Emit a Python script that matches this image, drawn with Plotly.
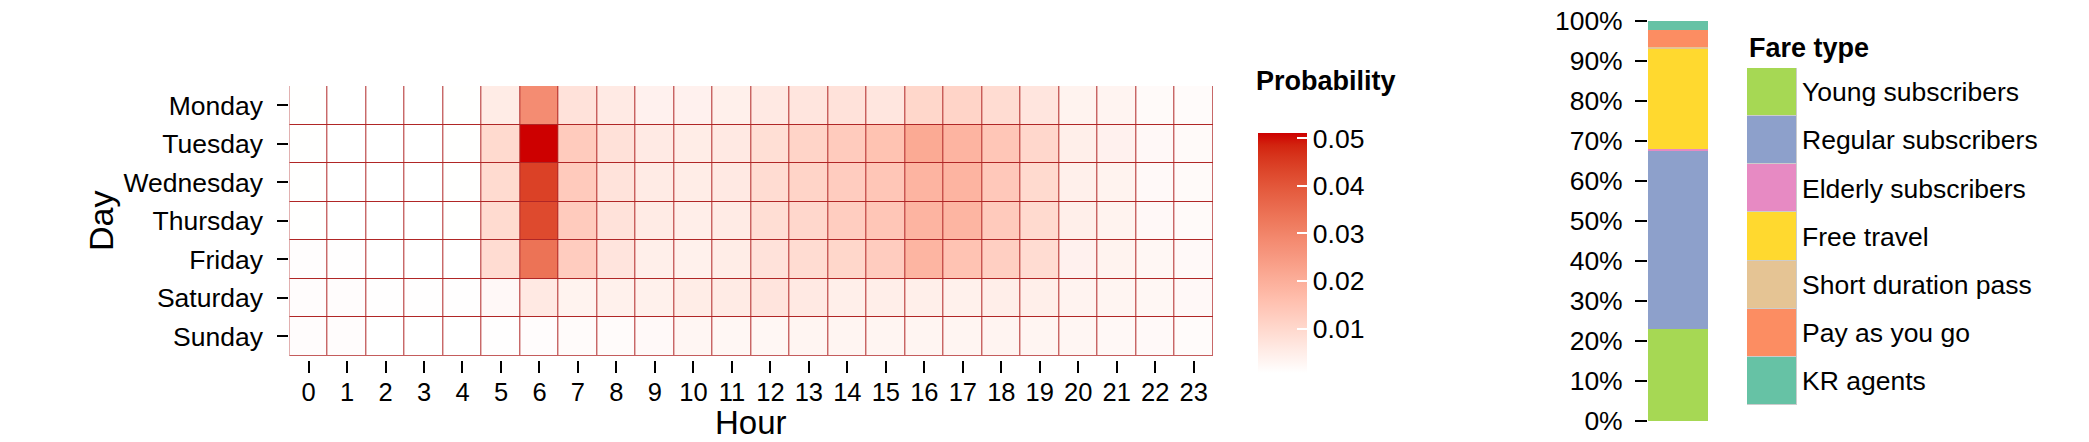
import plotly.graph_objects as go

# ---------------- data ----------------
days = ["Monday", "Tuesday", "Wednesday", "Thursday", "Friday", "Saturday", "Sunday"]
hours = list(range(24))

monday = [0.0008, 0.0007, 0.0007, 0.0007, 0.0008, 0.0053, 0.0283, 0.0076, 0.0058, 0.0039, 0.0039, 0.0043,
          0.0060, 0.0068, 0.0076, 0.0066, 0.0104, 0.0110, 0.0091, 0.0068, 0.0036, 0.0032, 0.0018, 0.0016]
tuesday = [0.0008, 0.0007, 0.0007, 0.0007, 0.0008, 0.0096, 0.0512, 0.0131, 0.0078, 0.0058, 0.0051, 0.0060,
           0.0084, 0.0110, 0.0131, 0.0152, 0.0212, 0.0186, 0.0143, 0.0102, 0.0045, 0.0039, 0.0022, 0.0018]
wednesday = [0.0008, 0.0007, 0.0007, 0.0007, 0.0008, 0.0094, 0.0442, 0.0133, 0.0073, 0.0055, 0.0051, 0.0060,
             0.0091, 0.0110, 0.0128, 0.0143, 0.0186, 0.0186, 0.0138, 0.0096, 0.0043, 0.0036, 0.0020, 0.0018]
thursday = [0.0008, 0.0007, 0.0007, 0.0007, 0.0008, 0.0094, 0.0425, 0.0131, 0.0076, 0.0055, 0.0047, 0.0055,
            0.0086, 0.0102, 0.0126, 0.0143, 0.0186, 0.0183, 0.0133, 0.0096, 0.0045, 0.0036, 0.0022, 0.0018]
friday = [0.0011, 0.0009, 0.0007, 0.0007, 0.0007, 0.0091, 0.0340, 0.0128, 0.0071, 0.0045, 0.0041, 0.0051,
          0.0076, 0.0091, 0.0104, 0.0128, 0.0183, 0.0150, 0.0121, 0.0091, 0.0039, 0.0036, 0.0026, 0.0020]
saturday = [0.0013, 0.0013, 0.0009, 0.0009, 0.0009, 0.0022, 0.0060, 0.0036, 0.0041, 0.0041, 0.0051, 0.0055,
            0.0071, 0.0060, 0.0045, 0.0047, 0.0045, 0.0041, 0.0047, 0.0045, 0.0034, 0.0030, 0.0026, 0.0022]
sunday = [0.0013, 0.0013, 0.0007, 0.0007, 0.0007, 0.0009, 0.0013, 0.0016, 0.0016, 0.0020, 0.0028, 0.0026,
          0.0026, 0.0030, 0.0030, 0.0030, 0.0030, 0.0030, 0.0032, 0.0030, 0.0028, 0.0024, 0.0020, 0.0016]

fare_types = ["Young subscribers", "Regular subscribers", "Elderly subscribers", "Free travel",
              "Short duration pass", "Pay as you go", "KR agents"]
fare_share = [0.230, 0.447, 0.0033, 0.249, 0.0067, 0.042, 0.022]
fare_colors = ["#A6D854", "#8DA0CB", "#E78AC3", "#FFD92F", "#E5C494", "#FC8D62", "#66C2A5"]

prob = [monday, tuesday, wednesday, thursday, friday, saturday, sunday]

# ---------------- colour ramp (CIELAB interpolation, white -> red3) ----------------
WHITE = (0.95047, 1.0, 1.08883)


def _lin(c):
    c = c / 255.0
    return c / 12.92 if c <= 0.04045 else ((c + 0.055) / 1.055) ** 2.4


def _gam(c):
    c = 12.92 * c if c <= 0.0031308 else 1.055 * (max(c, 0) ** (1 / 2.4)) - 0.055
    return int(round(min(max(c, 0), 1) * 255))


def rgb2lab(h):
    r, g, b = [_lin(int(h[i:i + 2], 16)) for i in (1, 3, 5)]
    X = 0.4124 * r + 0.3576 * g + 0.1805 * b
    Y = 0.2126 * r + 0.7152 * g + 0.0722 * b
    Z = 0.0193 * r + 0.1192 * g + 0.9505 * b
    f = lambda t: t ** (1 / 3) if t > 216 / 24389 else (24389 / 27 * t + 16) / 116
    fx, fy, fz = f(X / WHITE[0]), f(Y / WHITE[1]), f(Z / WHITE[2])
    return 116 * fy - 16, 500 * (fx - fy), 200 * (fy - fz)


def lab2rgb(L, a, b):
    fy = (L + 16) / 116
    fx = fy + a / 500
    fz = fy - b / 200
    finv = lambda t: t ** 3 if t ** 3 > 216 / 24389 else (116 * t - 16) / (24389 / 27)
    X, Y, Z = finv(fx) * WHITE[0], finv(fy) * WHITE[1], finv(fz) * WHITE[2]
    r = 3.2406 * X - 1.5372 * Y - 0.4986 * Z
    g = -0.9689 * X + 1.8758 * Y + 0.0415 * Z
    bb = 0.0557 * X - 0.2040 * Y + 1.0570 * Z
    return "rgb(%d,%d,%d)" % (_gam(r), _gam(g), _gam(bb))


lo, hi = rgb2lab("#FFFFFF"), rgb2lab("#CD0000")
N = 20
colorscale = []
for i in range(N + 1):
    t = i / N
    colorscale.append([t, lab2rgb(*[lo[k] + (hi[k] - lo[k]) * t for k in range(3)])])

# ---------------- figure ----------------
W, H = 2089, 442
FONT = "Liberation Sans, Arial, Helvetica, sans-serif"
px = lambda v: v / W
py = lambda v: 1 - v / H

fig = go.Figure()

fig.add_trace(go.Heatmap(
    z=prob, x=hours, y=days, colorscale=colorscale, xgap=1, ygap=1,
    xaxis="x", yaxis="y", hoverinfo="skip",
    colorbar=dict(
        x=px(1258), xanchor="left", y=py((132.7 + 372.7) / 2), yanchor="middle",
        lenmode="pixels", len=240, thickness=49, xpad=0, ypad=0,
        outlinewidth=0, ticks="inside", ticklen=10, tickwidth=2, tickcolor="white",
        tick0=0, dtick=0.01, tickfont=dict(size=26.5, color="black", family=FONT),
    ),
))

for name, share, color in zip(fare_types, fare_share, fare_colors):
    fig.add_trace(go.Bar(
        x=[0], y=[share], name=name, marker=dict(color=color, line=dict(width=0)),
        width=1, xaxis="x2", yaxis="y2", showlegend=False, hoverinfo="skip",
    ))

fig.add_trace(go.Bar(
    x=[1] * len(fare_types), y=fare_types, orientation="h", width=1,
    marker=dict(color=fare_colors, line=dict(color="#CCCCCC", width=1)),
    xaxis="x3", yaxis="y3", showlegend=False, hoverinfo="skip",
))

tick_common = dict(ticks="outside", tickwidth=2, tickcolor="black", showgrid=False,
                   zeroline=False, showline=False, automargin=False)
hidden = dict(showticklabels=False, showgrid=False, zeroline=False, showline=False, ticks="",
              automargin=False)

fig.update_layout(
    width=W, height=H, margin=dict(l=0, r=0, t=0, b=0, pad=0, autoexpand=False),
    paper_bgcolor="white", plot_bgcolor="white",
    font=dict(family=FONT, color="black"),
    barmode="stack", bargap=0, showlegend=False,
    xaxis=dict(domain=[px(289.3), px(1213)], anchor="free", position=py(360),
               range=[-0.5, 23.5], tickmode="linear", tick0=0, dtick=1, ticklen=12,
               ticklabelstandoff=-3, tickfont=dict(size=25.5, color="black", family=FONT),
               **tick_common),
    yaxis=dict(domain=[py(355.7), py(86)], anchor="x", type="category",
               categoryorder="array", categoryarray=days, range=[6.5, -0.5], ticklen=11,
               ticklabelstandoff=9, tickfont=dict(size=26.5, color="black", family=FONT),
               **tick_common),
    xaxis2=dict(domain=[px(1648), px(1708)], anchor="y2", range=[-0.5, 0.5], **hidden),
    yaxis2=dict(domain=[py(421), py(20.7)], anchor="x2", range=[0, 1], tickmode="linear",
                tick0=0, dtick=0.1, tickformat=".0%", ticklen=12, ticklabelstandoff=7,
                tickfont=dict(size=26.5, color="black", family=FONT), **tick_common),
    xaxis3=dict(domain=[px(1747), px(1797)], anchor="y3", range=[0, 1], **hidden),
    yaxis3=dict(domain=[py(405), py(68)], anchor="x3", side="right", type="category",
                categoryorder="array", categoryarray=fare_types, range=[6.5, -0.5],
                showgrid=False, zeroline=False, showline=False, ticks="", ticklabelstandoff=4,
                automargin=False, tickfont=dict(size=26.5, color="black", family=FONT)),
    shapes=[dict(type="rect", xref="x domain", yref="y domain", x0=0, x1=1, y0=0, y1=1,
                 fillcolor="#B02626", line=dict(width=0), layer="below")],
    annotations=[
        dict(text="Hour", x=px(751), y=py(442), xref="paper", yref="paper", borderpad=0,
             xanchor="center", yanchor="bottom", showarrow=False, font=dict(size=33, family=FONT)),
        dict(text="Day", x=px(101), y=py(221), xref="paper", yref="paper", textangle=-90,
             borderpad=0, xanchor="center", yanchor="middle", showarrow=False,
             font=dict(size=34, family=FONT)),
        dict(text="<b>Probability</b>", x=px(1254), y=py(81), xref="paper", yref="paper",
             xanchor="left", yanchor="middle", showarrow=False, font=dict(size=27, family=FONT)),
        dict(text="<b>Fare type</b>", x=px(1747), y=py(48), xref="paper", yref="paper",
             xanchor="left", yanchor="middle", showarrow=False, font=dict(size=27, family=FONT)),
    ],
)

fig.write_html("out.html", config={"displayModeBar": False},
               post_script="document.body.style.margin='0';")
